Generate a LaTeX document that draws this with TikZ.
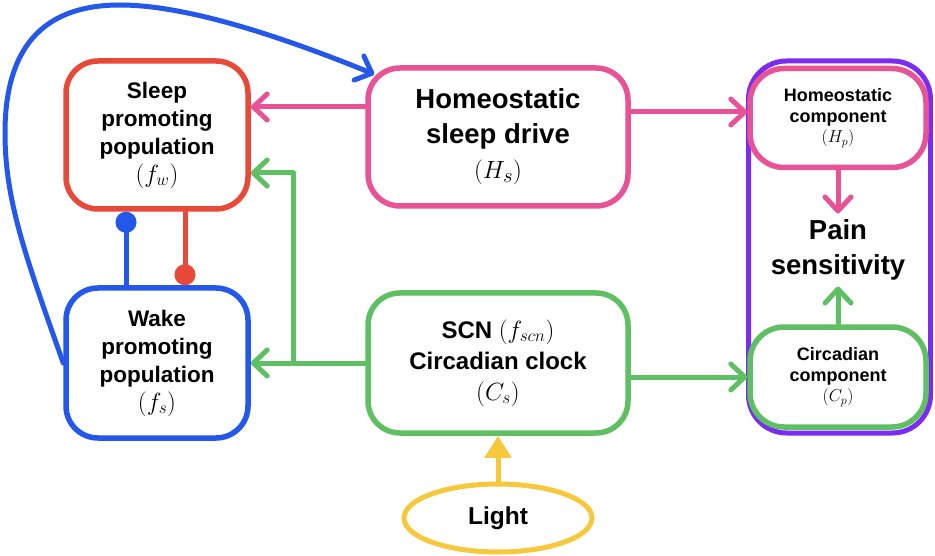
\documentclass[tikz,border=0pt]{standalone}
\usepackage{fontspec}
\setmainfont{Liberation Sans}
\usetikzlibrary{arrows.meta,shapes.geometric}
\definecolor{cred}{RGB}{232,74,58}
\definecolor{cblue}{RGB}{36,88,235}
\definecolor{cpink}{RGB}{232,82,150}
\definecolor{cgreen}{RGB}{95,192,99}
\definecolor{cpurple}{RGB}{123,44,240}
\definecolor{cyellow}{RGB}{246,200,60}
\newcommand{\mathline}[2]{{\fontsize{#1}{#1}\selectfont #2}}
\begin{document}
\begin{tikzpicture}[x=1pt,y=-1pt,
  box/.style={draw, line width=5.5pt, rounded corners=32pt, align=center, inner sep=0pt, fill=white},
  bigtxt/.style={font=\fontsize{22.5}{28}\selectfont\bfseries},
  hugetxt/.style={font=\fontsize{27.5}{35}\selectfont\bfseries},
  midtxt/.style={font=\fontsize{24}{31}\selectfont\bfseries},
  smalltxt/.style={font=\fontsize{18}{20.5}\selectfont\bfseries},
  conn/.style={line width=5pt, line cap=round, line join=round},
  arr/.style={conn, -{Straight Barb[length=14pt,width=26pt,line cap=round,line join=round]}},
  dotend/.style={conn, -{Circle[length=21pt]}},
  tri/.style={conn, -{Triangle[length=22pt,width=26pt]}}
]
\useasboundingbox (0,0) rectangle (935,556);

% nodes
\node[box, draw=cred, bigtxt, minimum width=182pt, minimum height=148pt] (fw) at (157,135)
  {Sleep\\promoting\\population\\\mathline{25}{$(f_w)$}};
\node[box, draw=cblue, bigtxt, minimum width=182pt, minimum height=150pt] (fs) at (157,363)
  {Wake\\promoting\\population\\\mathline{25}{$(f_s)$}};
\node[box, draw=cpink, hugetxt, minimum width=260pt, minimum height=138pt] (hs) at (498,137)
  {Homeostatic\\sleep drive\\\mathline{31}{$(H_s)$}};
\node[box, draw=cgreen, midtxt, minimum width=260pt, minimum height=140pt] (scn) at (498,363)
  {SCN \mathline{26}{$(f_{scn})$}\\Circadian clock\\\mathline{26}{$(C_s)$}};
\node[draw=cpurple, line width=5pt, rounded corners=38pt, minimum width=182pt, minimum height=372pt] (pur) at (839.5,247) {};
\node[box, draw=cpink, smalltxt, rounded corners=34pt, minimum width=176pt, minimum height=99pt] (hp) at (838,118)
  {Homeostatic\\component\\$(H_p)$};
\node[box, draw=cgreen, smalltxt, rounded corners=34pt, minimum width=176pt, minimum height=100pt] (cp) at (838,377)
  {Circadian\\component\\$(C_p)$};
\node[hugetxt, align=center, inner sep=6pt] (pain) at (838,250) {Pain\\sensitivity};
\node[draw=cyellow, line width=5pt, ellipse, minimum width=188pt, minimum height=68pt, inner sep=0pt,
  font=\fontsize{24.5}{30}\selectfont\bfseries] (light) at (498,518) {Light};

% connectors
\draw[arr, cpink] ([yshift=30pt]hs.west) -- ([yshift=30pt]hs.west -| fw.east);
\draw[arr, cpink] ([yshift=25pt]hs.east) -- ([yshift=25pt]hs.east -| hp.west);
\draw[arr, cpink] (hp.south) -- (pain.north);
\draw[arr, cgreen] (cp.north) -- (pain.south);
\draw[arr, cgreen] (scn.east |- cp.west) -- (cp.west);
\draw[arr, cgreen] (scn.west) -- (fs.east);
\coordinate (br) at (293,363);
\draw[arr, cgreen] (br) |- ([yshift=-38pt]fw.east);
\draw[dotend, cblue] ([xshift=-31pt]fs.north) -- ([xshift=-31pt]fw.south);
\draw[dotend, cred] ([xshift=28pt]fw.south) -- ([xshift=28pt]fs.north);
\draw[tri, cyellow] (light.north) -- (scn.south);
\coordinate (hsc) at ([shift={(9pt,-9pt)}]hs.north west);
\draw[arr, cblue] (fs.west) .. controls (25,255) and (5,200) .. (5,133)
  .. controls (5,40) and (50,5) .. (120,5)
  .. controls (190,5) and (290,40) .. (hsc);
\end{tikzpicture}
\end{document}
